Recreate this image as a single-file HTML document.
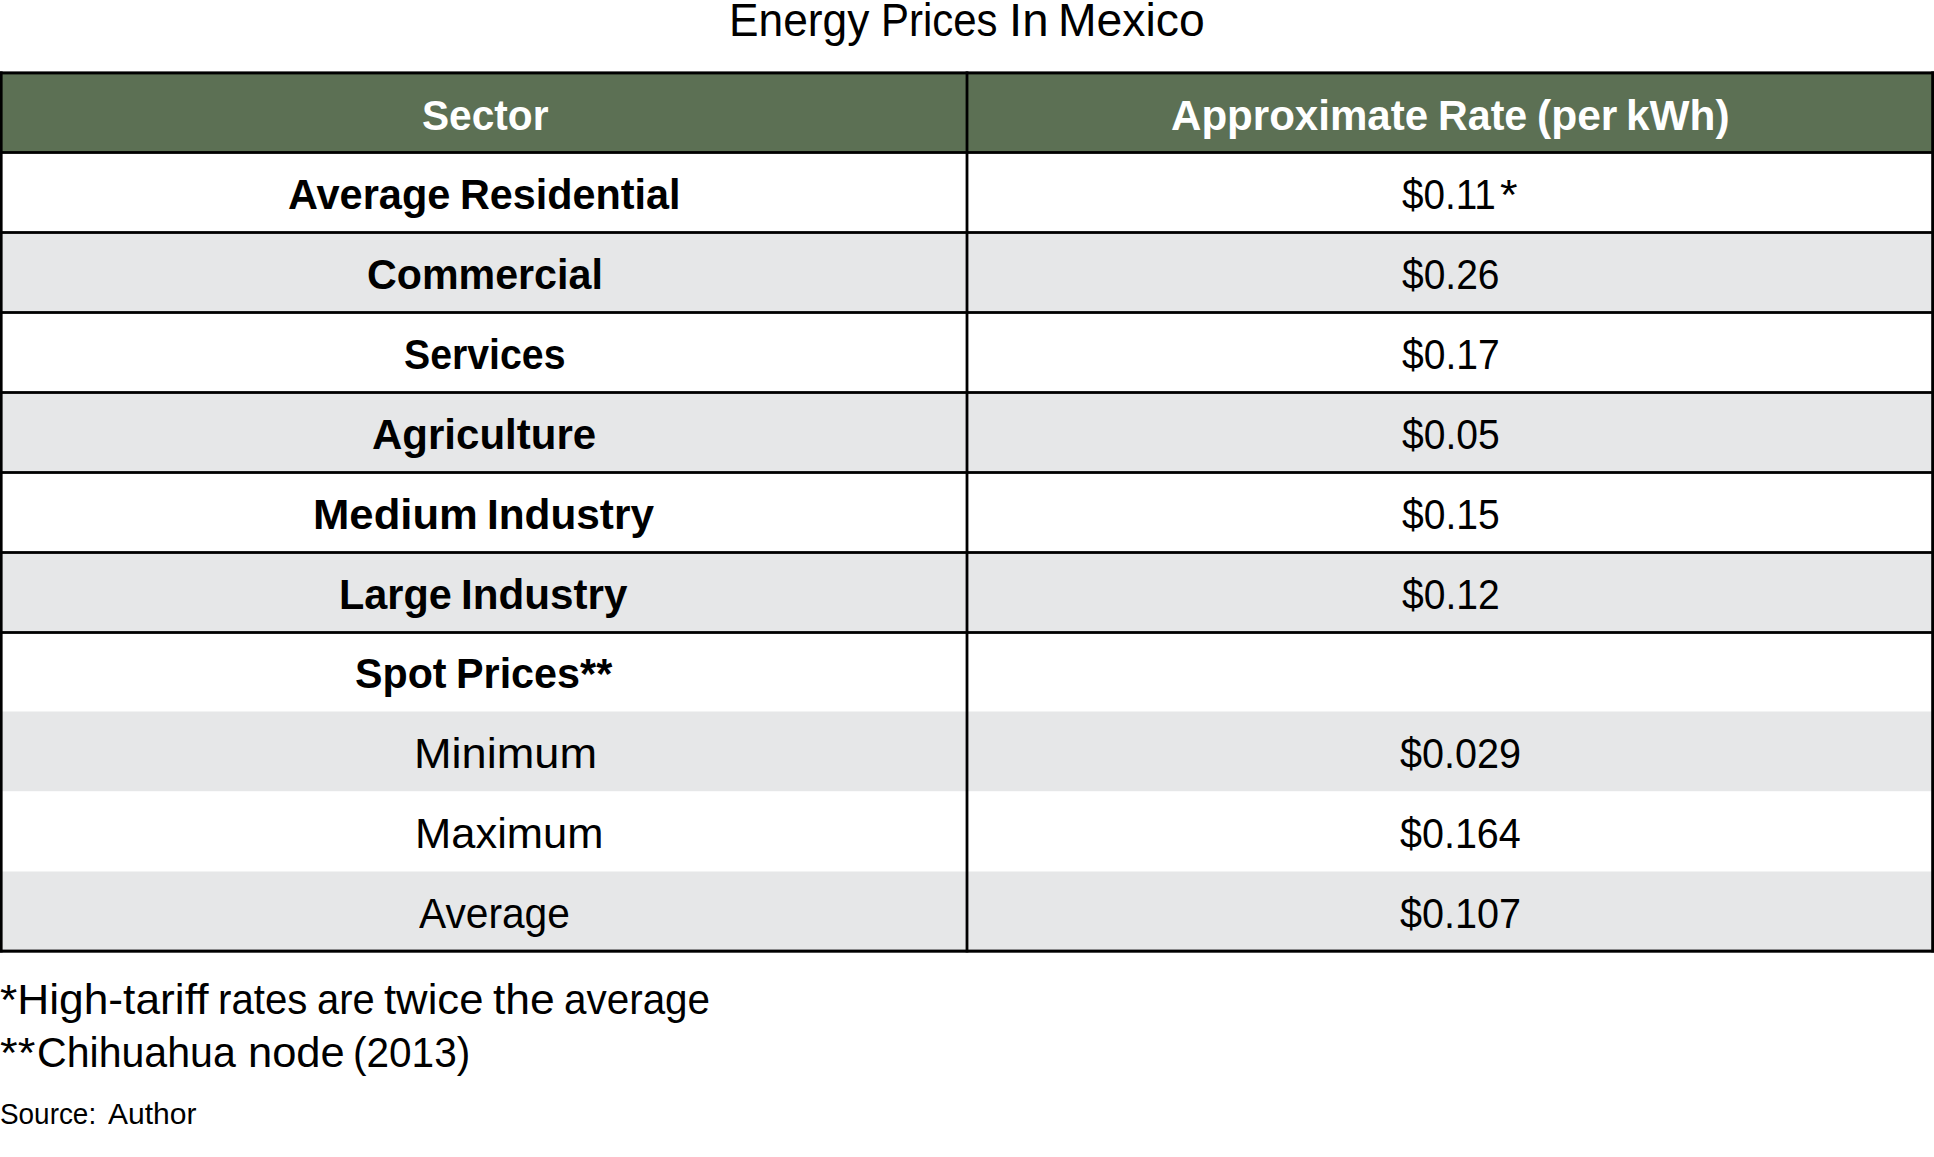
<!DOCTYPE html>
<html><head><meta charset="utf-8"><title>Energy Prices In Mexico</title>
<style>
html,body{margin:0;padding:0;background:#fff;}
body{width:1934px;height:1157px;position:relative;overflow:hidden;}
.t{position:absolute;white-space:pre;font-family:"Liberation Sans",sans-serif;transform-origin:0 0;}
svg{position:absolute;left:0;top:0;}
</style></head><body>

<svg width="1934" height="1157" viewBox="0 0 1934 1157">
<rect x="0" y="72" width="1934" height="80" fill="#5c7054"/>
<rect x="0" y="232" width="1934" height="80" fill="#e6e7e8"/>
<rect x="0" y="392" width="1934" height="80" fill="#e6e7e8"/>
<rect x="0" y="552" width="1934" height="80" fill="#e6e7e8"/>
<rect x="0" y="711.5" width="1934" height="79.7" fill="#e6e7e8"/>
<rect x="0" y="871.5" width="1934" height="78.5" fill="#e6e7e8"/>
<rect x="0" y="71.4" width="1934" height="3" fill="#000"/>
<rect x="0" y="949.6" width="1934" height="3.1" fill="#000"/>
<rect x="0" y="71.4" width="2.6" height="881" fill="#000"/>
<rect x="1931.2" y="71.4" width="2.8" height="881" fill="#000"/>
<rect x="965.6" y="71.4" width="2.8" height="881" fill="#000"/>
<rect x="0" y="151.1" width="1934" height="2.8" fill="#000"/>
<rect x="0" y="231.1" width="1934" height="2.8" fill="#000"/>
<rect x="0" y="311.1" width="1934" height="2.8" fill="#000"/>
<rect x="0" y="391.1" width="1934" height="2.8" fill="#000"/>
<rect x="0" y="471.1" width="1934" height="2.8" fill="#000"/>
<rect x="0" y="551.1" width="1934" height="2.8" fill="#000"/>
<rect x="0" y="631.1" width="1934" height="2.8" fill="#000"/>
</svg>
<div class="t" style="left:728.62px;top:-3.00px;font-size:46.9px;line-height:46.9px;font-weight:normal;color:#000;transform:scaleX(0.9441)">Energy</div>
<div class="t" style="left:880.92px;top:-3.00px;font-size:46.9px;line-height:46.9px;font-weight:normal;color:#000;transform:scaleX(0.8944)">Prices</div>
<div class="t" style="left:1008.66px;top:-3.00px;font-size:46.9px;line-height:46.9px;font-weight:normal;color:#000;transform:scaleX(1.0094)">In</div>
<div class="t" style="left:1057.75px;top:-3.00px;font-size:46.9px;line-height:46.9px;font-weight:normal;color:#000;transform:scaleX(0.9874)">Mexico</div>
<div class="t" style="left:421.85px;top:93.80px;font-size:42.7px;line-height:42.7px;font-weight:bold;color:#fff;transform:scaleX(0.9519)">Sector</div>
<div class="t" style="left:1171.01px;top:93.80px;font-size:42.7px;line-height:42.7px;font-weight:bold;color:#fff;transform:scaleX(0.9857)">Approximate</div>
<div class="t" style="left:1437.91px;top:93.80px;font-size:42.7px;line-height:42.7px;font-weight:bold;color:#fff;transform:scaleX(0.9648)">Rate</div>
<div class="t" style="left:1536.51px;top:93.80px;font-size:42.7px;line-height:42.7px;font-weight:bold;color:#fff;transform:scaleX(0.9962)">(per</div>
<div class="t" style="left:1625.52px;top:93.80px;font-size:42.7px;line-height:42.7px;font-weight:bold;color:#fff;transform:scaleX(0.9919)">kWh)</div>
<div class="t" style="left:288.03px;top:172.90px;font-size:42.65px;line-height:42.65px;font-weight:bold;color:#000;transform:scaleX(0.9738)">Average</div>
<div class="t" style="left:459.89px;top:172.90px;font-size:42.65px;line-height:42.65px;font-weight:bold;color:#000;transform:scaleX(0.9694)">Residential</div>
<div class="t" style="left:366.87px;top:252.90px;font-size:42.65px;line-height:42.65px;font-weight:bold;color:#000;transform:scaleX(0.9661)">Commercial</div>
<div class="t" style="left:404.18px;top:332.90px;font-size:42.65px;line-height:42.65px;font-weight:bold;color:#000;transform:scaleX(0.9202)">Services</div>
<div class="t" style="left:372.11px;top:412.90px;font-size:42.65px;line-height:42.65px;font-weight:bold;color:#000;transform:scaleX(0.9853)">Agriculture</div>
<div class="t" style="left:312.63px;top:492.80px;font-size:42.65px;line-height:42.65px;font-weight:bold;color:#000;transform:scaleX(1.0237)">Medium</div>
<div class="t" style="left:486.92px;top:492.80px;font-size:42.65px;line-height:42.65px;font-weight:bold;color:#000;transform:scaleX(0.9927)">Industry</div>
<div class="t" style="left:339.29px;top:572.90px;font-size:42.65px;line-height:42.65px;font-weight:bold;color:#000;transform:scaleX(0.9705)">Large</div>
<div class="t" style="left:460.93px;top:572.90px;font-size:42.65px;line-height:42.65px;font-weight:bold;color:#000;transform:scaleX(0.9897)">Industry</div>
<div class="t" style="left:355.03px;top:652.30px;font-size:42.65px;line-height:42.65px;font-weight:bold;color:#000;transform:scaleX(0.9667)">Spot</div>
<div class="t" style="left:455.99px;top:652.30px;font-size:42.65px;line-height:42.65px;font-weight:bold;color:#000;transform:scaleX(0.9690)">Prices**</div>
<div class="t" style="left:414.40px;top:732.00px;font-size:43.0px;line-height:43.0px;font-weight:normal;color:#000;transform:scaleX(1.0494)">Minimum</div>
<div class="t" style="left:414.56px;top:812.00px;font-size:43.0px;line-height:43.0px;font-weight:normal;color:#000;transform:scaleX(1.0111)">Maximum</div>
<div class="t" style="left:418.60px;top:892.00px;font-size:43.0px;line-height:43.0px;font-weight:normal;color:#000;transform:scaleX(0.9468)">Average</div>
<div class="t" style="left:1402.09px;top:173.80px;font-size:42.25px;line-height:42.25px;font-weight:normal;color:#000;transform:scaleX(0.9150)">&#36;0.11</div>
<div class="t" style="left:1499.93px;top:173.80px;font-size:42.25px;line-height:42.25px;font-weight:normal;color:#000;transform:scaleX(1.0667)">*</div>
<div class="t" style="left:1402.08px;top:253.80px;font-size:42.25px;line-height:42.25px;font-weight:normal;color:#000;transform:scaleX(0.9223)">&#36;0.26</div>
<div class="t" style="left:1401.58px;top:333.80px;font-size:42.25px;line-height:42.25px;font-weight:normal;color:#000;transform:scaleX(0.9243)">&#36;0.17</div>
<div class="t" style="left:1401.58px;top:413.80px;font-size:42.25px;line-height:42.25px;font-weight:normal;color:#000;transform:scaleX(0.9243)">&#36;0.05</div>
<div class="t" style="left:1401.58px;top:493.80px;font-size:42.25px;line-height:42.25px;font-weight:normal;color:#000;transform:scaleX(0.9243)">&#36;0.15</div>
<div class="t" style="left:1401.58px;top:573.80px;font-size:42.25px;line-height:42.25px;font-weight:normal;color:#000;transform:scaleX(0.9243)">&#36;0.12</div>
<div class="t" style="left:1400.06px;top:733.00px;font-size:42.25px;line-height:42.25px;font-weight:normal;color:#000;transform:scaleX(0.9365)">&#36;0.029</div>
<div class="t" style="left:1400.07px;top:813.00px;font-size:42.25px;line-height:42.25px;font-weight:normal;color:#000;transform:scaleX(0.9346)">&#36;0.164</div>
<div class="t" style="left:1400.06px;top:893.00px;font-size:42.25px;line-height:42.25px;font-weight:normal;color:#000;transform:scaleX(0.9365)">&#36;0.107</div>
<div class="t" style="left:0.46px;top:977.80px;font-size:42.56px;line-height:42.56px;font-weight:normal;color:#000;transform:scaleX(1.0412)">*High-tariff</div>
<div class="t" style="left:217.77px;top:977.80px;font-size:42.56px;line-height:42.56px;font-weight:normal;color:#000;transform:scaleX(0.9444)">rates</div>
<div class="t" style="left:316.93px;top:977.80px;font-size:42.56px;line-height:42.56px;font-weight:normal;color:#000;transform:scaleX(0.9362)">are</div>
<div class="t" style="left:384.07px;top:977.80px;font-size:42.56px;line-height:42.56px;font-weight:normal;color:#000;transform:scaleX(1.0255)">twice</div>
<div class="t" style="left:493.26px;top:977.80px;font-size:42.56px;line-height:42.56px;font-weight:normal;color:#000;transform:scaleX(1.0446)">the</div>
<div class="t" style="left:564.30px;top:977.80px;font-size:42.56px;line-height:42.56px;font-weight:normal;color:#000;transform:scaleX(0.9500)">average</div>
<div class="t" style="left:0.44px;top:1031.00px;font-size:42.56px;line-height:42.56px;font-weight:normal;color:#000;transform:scaleX(1.0645)">**</div>
<div class="t" style="left:36.57px;top:1031.00px;font-size:42.56px;line-height:42.56px;font-weight:normal;color:#000;transform:scaleX(0.9657)">Chihuahua</div>
<div class="t" style="left:247.64px;top:1031.00px;font-size:42.56px;line-height:42.56px;font-weight:normal;color:#000;transform:scaleX(1.0211)">node</div>
<div class="t" style="left:352.74px;top:1031.00px;font-size:42.56px;line-height:42.56px;font-weight:normal;color:#000;transform:scaleX(0.9530)">(2013)</div>
<div class="t" style="left:-0.40px;top:1098.60px;font-size:29.3px;line-height:29.3px;font-weight:normal;color:#000;transform:scaleX(0.9521)">Source:</div>
<div class="t" style="left:108.00px;top:1098.60px;font-size:29.3px;line-height:29.3px;font-weight:normal;color:#000;transform:scaleX(1.0256)">Author</div>
</body></html>
